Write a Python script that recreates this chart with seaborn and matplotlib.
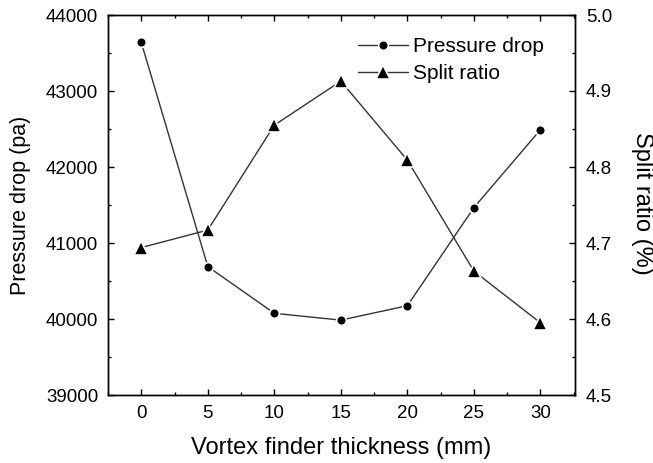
import matplotlib
matplotlib.use("Agg")
import matplotlib.pyplot as plt
import seaborn as sns
import pandas as pd
from matplotlib.ticker import MultipleLocator

thickness = [0, 5, 10, 15, 20, 25, 30]
pressure_drop = [43640, 40690, 40075, 39985, 40175, 41465, 42490]
split_ratio = [4.694, 4.717, 4.855, 4.913, 4.809, 4.663, 4.595]

sns.set_style("ticks")
plt.rcParams['font.family'] = ['Liberation Sans', 'DejaVu Sans']
plt.rcParams['xtick.direction'] = 'in'
plt.rcParams['ytick.direction'] = 'in'
plt.rcParams['text.color'] = 'black'
plt.rcParams['axes.labelcolor'] = 'black'
plt.rcParams['xtick.color'] = 'black'
plt.rcParams['ytick.color'] = 'black'

df = pd.DataFrame({"thickness": thickness, "pressure": pressure_drop, "split": split_ratio})

fig = plt.figure(figsize=(6.53, 4.63), dpi=100)
ax = fig.add_axes([108/653, 1-395/463, (575-108)/653, (395-15)/463])
ax2 = ax.twinx()

sns.lineplot(data=df, x="thickness", y="pressure", ax=ax, color='#333333', lw=1.0,
             marker='o', markersize=7, markerfacecolor='black', markeredgecolor='white',
             markeredgewidth=1.2, label='Pressure drop', legend=False)
sns.lineplot(data=df, x="thickness", y="split", ax=ax2, color='#333333', lw=1.0,
             marker='^', markersize=10, markerfacecolor='black', markeredgecolor='white',
             markeredgewidth=1.2, label='Split ratio', legend=False)

ax.set_xlim(-2.5, 32.6)
ax.set_ylim(39000, 44000)
ax2.set_ylim(4.5, 5.0)
ax.set_xticks(thickness)
ax.xaxis.set_minor_locator(MultipleLocator(2.5))
ax.yaxis.set_major_locator(MultipleLocator(1000))
ax.yaxis.set_minor_locator(MultipleLocator(500))
ax2.yaxis.set_minor_locator(MultipleLocator(0.05))
ax2.set_yticks([4.5, 4.6, 4.7, 4.8, 4.9, 5.0])
ax2.set_yticklabels(["4.5", "4.6", "4.7", "4.8", "4.9", "5.0"])

for a in (ax, ax2):
    for s in a.spines.values():
        s.set_linewidth(1.0)
        s.set_color('black')
ax.tick_params(axis='both', which='major', length=4, width=1, labelsize=13.5, top=True, pad=7,
               colors='black')
ax.tick_params(axis='both', which='minor', length=2.5, width=1, top=True, colors='black')
ax.tick_params(axis='y', which='both', right=False)
ax2.tick_params(axis='y', which='major', length=4, width=1, labelsize=13.5, pad=8, colors='black')
ax2.tick_params(axis='y', which='minor', length=2.5, width=1, colors='black')

ax.set_xlabel("Vortex finder thickness (mm)", fontsize=17, va='center', ha='center', color='black')
ax.xaxis.set_label_coords(0.5, -0.14)
ax.set_ylabel("Pressure drop (pa)", fontsize=15.5, va='center', ha='center', color='black')
ax.yaxis.set_label_coords(-0.188, 0.5)
ax2.set_ylabel("Split ratio (%)", fontsize=17, rotation=270, va='center', ha='center', color='black')
ax2.yaxis.set_label_coords(1.143, 0.505)

h1, l1 = ax.get_legend_handles_labels()
h2, l2 = ax2.get_legend_handles_labels()
leg = ax2.legend(h1 + h2, l1 + l2, loc='upper right', bbox_to_anchor=(0.934, 0.942),
                 frameon=False, fontsize=15, handlelength=2.4, handletextpad=0.25,
                 labelspacing=0.4, borderaxespad=0, borderpad=0, labelcolor='black')

fig.savefig("out.png", dpi=100)
